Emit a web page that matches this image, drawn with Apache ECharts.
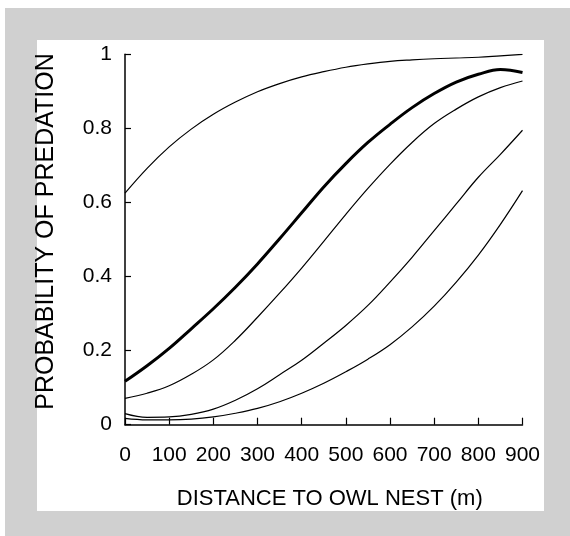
<!DOCTYPE html>
<html>
<head>
<meta charset="utf-8">
<script src="https://cdn.jsdelivr.net/npm/echarts@6/dist/echarts.min.js"></script>
<style>
  html, body { margin: 0; padding: 0; background: #ffffff; }
  #frame { position: absolute; left: 5px; top: 8px; width: 565px; height: 528px; background: #d0d0d0; }
  #panel { position: absolute; left: 37px; top: 40px; width: 507px; height: 471px; background: #ffffff; }
  #chart { position: absolute; left: 0; top: 0; width: 570px; height: 536px; }
</style>
</head>
<body>
<div id="frame"></div>
<div id="panel"></div>
<div id="chart"></div>
<script>
// Distance to owl nest (m)
const distances = [0, 50, 100, 150, 200, 250, 300, 350, 400, 450, 500, 550, 600, 650, 700, 750, 800, 850, 900];
// Upper confidence curve
const upperCI = [0.625, 0.692, 0.75, 0.798, 0.838, 0.871, 0.899, 0.921, 0.939, 0.953, 0.965, 0.974, 0.981, 0.985, 0.988, 0.99, 0.992, 0.996, 1.0];
// Fitted probability (thick line)
const fitted = [0.117, 0.159, 0.206, 0.259, 0.313, 0.371, 0.434, 0.502, 0.572, 0.642, 0.705, 0.762, 0.811, 0.856, 0.894, 0.925, 0.946, 0.959, 0.951];
// Second curve
const curve2 = [0.071, 0.085, 0.105, 0.136, 0.175, 0.228, 0.29, 0.355, 0.423, 0.495, 0.568, 0.638, 0.703, 0.762, 0.813, 0.852, 0.885, 0.91, 0.928];
// Third curve
const curve3 = [0.03, 0.02, 0.021, 0.028, 0.042, 0.066, 0.097, 0.135, 0.174, 0.22, 0.268, 0.322, 0.385, 0.452, 0.524, 0.596, 0.668, 0.73, 0.795];
// Lowest curve
const curve4 = [0.017, 0.013, 0.013, 0.015, 0.021, 0.031, 0.044, 0.062, 0.085, 0.112, 0.143, 0.177, 0.216, 0.264, 0.32, 0.385, 0.458, 0.541, 0.632];

const xTicks = [0, 100, 200, 300, 400, 500, 600, 700, 800, 900];
const yTicks = [0, 0.2, 0.4, 0.6, 0.8, 1];

const FONT = '"Liberation Sans", Arial, sans-serif';

function pairs(arr) { return distances.map((d, i) => [d, arr[i]]); }

function lineSeries(name, arr, width) {
  return {
    name: name,
    type: 'line',
    data: pairs(arr),
    symbol: 'none',
    smooth: 0.4,
    silent: true,
    lineStyle: { color: '#000000', width: width },
    z: width > 2 ? 3 : 2
  };
}

const chart = echarts.init(document.getElementById('chart'), null, { renderer: 'canvas' });
chart.setOption({
  backgroundColor: 'transparent',
  animation: false,
  grid: { left: 125, right: 47.5, top: 54.3, bottom: 111.3, containLabel: false },
  xAxis: {
    type: 'value',
    min: xTicks[0],
    max: xTicks[xTicks.length - 1],
    interval: xTicks[1] - xTicks[0],
    name: 'DISTANCE TO OWL NEST (m)',
    nameLocation: 'middle',
    nameGap: 63,
    nameTextStyle: { fontFamily: FONT, fontSize: 22, color: '#000', padding: [0, 0, 0, 12] },
    axisLine: { lineStyle: { color: '#000', width: 1.5 } },
    axisTick: { inside: true, length: 7, lineStyle: { color: '#000', width: 1.2 } },
    axisLabel: { fontFamily: FONT, fontSize: 21, color: '#000', margin: 20 },
    splitLine: { show: false }
  },
  yAxis: {
    type: 'value',
    min: yTicks[0],
    max: yTicks[yTicks.length - 1],
    interval: yTicks[1] - yTicks[0],
    name: 'PROBABILITY OF PREDATION',
    nameLocation: 'middle',
    nameGap: 66,
    nameRotate: 90,
    nameTextStyle: { fontFamily: FONT, fontSize: 25, color: '#000', padding: [0, 0, 0, 16] },
    axisLine: { show: true, lineStyle: { color: '#000', width: 1.5 } },
    axisTick: { show: true, inside: true, length: 6, lineStyle: { color: '#000', width: 1.2 } },
    axisLabel: { fontFamily: FONT, fontSize: 21, color: '#000', margin: 13, padding: [8, 0, 0, 0] },
    splitLine: { show: false }
  },
  series: [
    lineSeries('upper', upperCI, 1.2),
    lineSeries('fitted', fitted, 3),
    lineSeries('curve2', curve2, 1.2),
    lineSeries('curve3', curve3, 1.2),
    lineSeries('curve4', curve4, 1.2)
  ]
});
</script>
</body>
</html>
